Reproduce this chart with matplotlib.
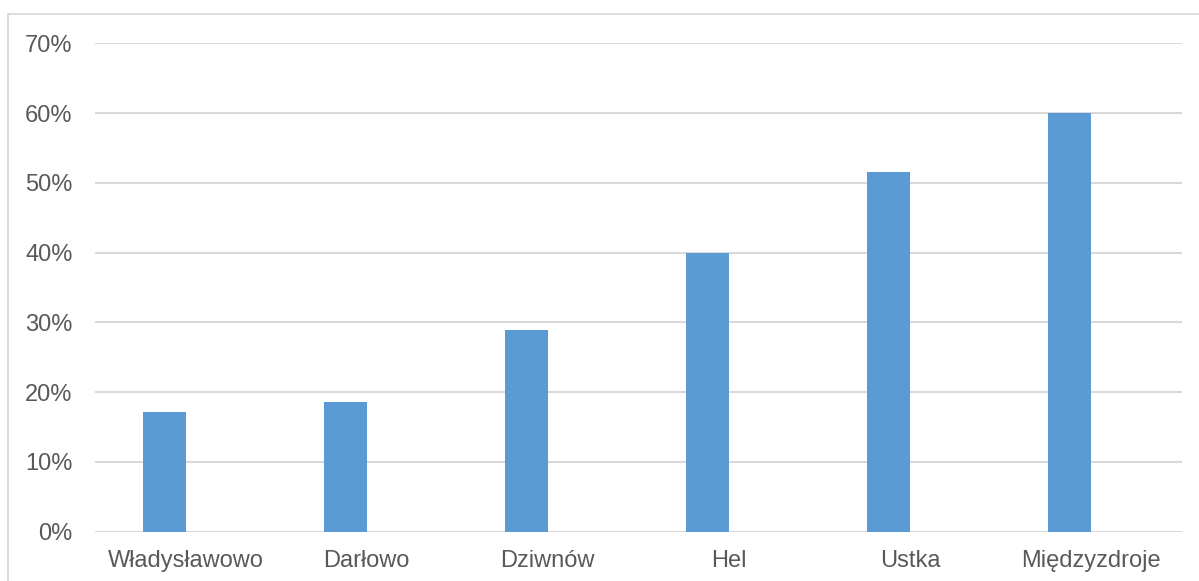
import matplotlib.pyplot as plt
from matplotlib.patches import Rectangle
from matplotlib.ticker import FuncFormatter

plt.rcParams['font.family'] = ['Liberation Sans', 'DejaVu Sans']

# data
towns = ['Władysławowo', 'Darłowo', 'Dziwnów', 'Hel', 'Ustka', 'Międzyzdroje']
shares = [0.171, 0.186, 0.289, 0.400, 0.516, 0.600]
y_ticks = [0.0, 0.1, 0.2, 0.3, 0.4, 0.5, 0.6, 0.7]

bar_color = '#5b9bd5'
grid_color = '#d9d9d9'
text_color = '#595959'

fig = plt.figure(figsize=(11.99, 5.81), dpi=100)
ax = fig.add_axes([0.0792, 0.0848, 0.9064, 0.8407])

# chart border (clipped at right / bottom like the reference)
fig.patches.append(Rectangle((8 / 1199, -0.1), 1.2, 0.976 + 0.1,
                             transform=fig.transFigure, fill=False,
                             edgecolor=grid_color, linewidth=1.3))

# bars sit left of the category centre (second, empty series in the original)
bw = 0.237
x = range(len(towns))
ax.bar(x, shares, width=-bw, align='edge', color=bar_color, zorder=3)

ax.set_xlim(-0.5, len(towns) - 0.5)
ax.set_ylim(0, 0.7)
ax.set_yticks(y_ticks)
ax.yaxis.set_major_formatter(FuncFormatter(lambda v, p: f'{v * 100:.0f}%'))
ax.set_xticks(list(x))
ax.set_xticklabels(towns)

ax.grid(axis='y', color=grid_color, linewidth=1.5, zorder=0)
for s in ax.spines.values():
    s.set_visible(False)
ax.tick_params(axis='both', length=0, labelsize=17, labelcolor=text_color)
ax.tick_params(axis='y', pad=16)
ax.tick_params(axis='x', pad=13)

fig.savefig('out.png', dpi=100)
